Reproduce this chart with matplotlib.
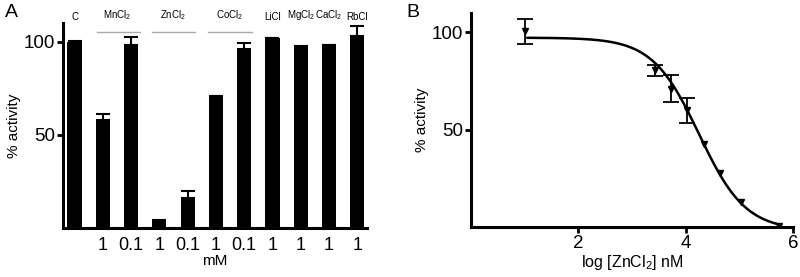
import numpy as np
import matplotlib.pyplot as plt

plt.rcParams['font.family'] = ['Liberation Sans', 'DejaVu Sans']
plt.rcParams['mathtext.fontset'] = 'custom'
plt.rcParams['mathtext.rm'] = 'Liberation Sans'
plt.rcParams['mathtext.it'] = 'Liberation Sans'

# panel A data
conc = ['', '1', '0.1', '1', '0.1', '1', '0.1', '1', '1', '1', '1']
activity = [100, 58, 98, 3.5, 16, 70.5, 96, 101.7, 97, 98, 102.8]
act_err = [0.5, 3, 4.5, 0.6, 3.5, 0.3, 3, 0.4, 0.4, 0.4, 5.5]
salt_names = ['C', 'MnCl$_2$', 'ZnCl$_2$', 'CoCl$_2$', 'LiCl', 'MgCl$_2$', 'CaCl$_2$', 'RbCl']
salt_pos = [0, 1.5, 3.5, 5.5, 7, 8, 9, 10]
group_spans = [(0.78, 2.3), (2.74, 4.27), (4.72, 6.28)]

# panel B data
log_zn = [1.0, 3.43, 3.73, 4.03, 4.35, 4.64, 5.03, 5.75]
zn_act = [100.5, 80.5, 71, 59.8, 42.3, 27.6, 12.9, 0.5]
zn_err = [6.2, 2.9, 7, 6.2, 0, 0, 0, 0]
# fitted dose-response parameters
fit_top, fit_bottom, fit_logic50, fit_hill = 97.3, -2.0, 4.25, 1.0

fig = plt.figure(figsize=(8, 2.77), dpi=100)

# ---- A ----
ax = fig.add_axes([0.079, 0.178, 0.38, 0.739])
x = np.arange(len(activity))
ax.bar(x, activity, width=0.5, color='black')
ax.errorbar(x, activity, yerr=[[0] * len(act_err), act_err], fmt='none',
            ecolor='black', elinewidth=1.5, capsize=5, capthick=1.5)
ax.set_xlim(-0.4, 10.35)
ax.set_ylim(0, 110)
ax.set_yticks([50, 100])
ax.set_xticks(x)
ax.set_xticklabels(conc, fontsize=13)
ax.tick_params(axis='x', length=0, pad=7)
ax.tick_params(axis='y', labelsize=13.5, width=2, length=4, pad=2)
for s in ['top', 'right']:
    ax.spines[s].set_visible(False)
for s in ['left', 'bottom']:
    ax.spines[s].set_linewidth(2.2)
ax.set_xlabel('mM', fontsize=11, labelpad=0)
ax.set_ylabel('% activity', fontsize=11, labelpad=2)
for name, p in zip(salt_names, salt_pos):
    ax.text(p, 110.5, name, ha='center', va='bottom', fontsize=7, clip_on=False)
for a, b in group_spans:
    ax.plot([a, b], [105, 105], color='#aaaaaa', lw=1, clip_on=False)
fig.text(0.006, 0.985, 'A', fontsize=14, va='top')

# ---- B ----
bx = fig.add_axes([0.589, 0.182, 0.402, 0.771])
xs = np.linspace(1.05, 5.75, 300)
fit = fit_bottom + (fit_top - fit_bottom) / (1 + 10 ** ((xs - fit_logic50) * fit_hill))
bx.plot(xs, fit, color='black', lw=1.8)
bx.plot(log_zn, zn_act, 'v', color='black', ms=5)
ex = [v for v, e in zip(log_zn, zn_err) if e > 0]
ey = [v for v, e in zip(zn_act, zn_err) if e > 0]
ee = [e for e in zn_err if e > 0]
bx.errorbar(ex, ey, yerr=ee, fmt='none', ecolor='black',
            elinewidth=1.3, capsize=6, capthick=1.3)
bx.set_xlim(0, 6)
bx.set_ylim(0, 110)
bx.set_xticks([2, 4, 6])
bx.set_yticks([50, 100])
bx.tick_params(axis='both', labelsize=13.5, width=2, length=4, pad=2)
for s in ['top', 'right']:
    bx.spines[s].set_visible(False)
for s in ['left', 'bottom']:
    bx.spines[s].set_linewidth(2.2)
bx.set_xlabel('log [ZnCl$_2$] nM', fontsize=11.5, labelpad=1)
bx.set_ylabel('% activity', fontsize=11, labelpad=2)
fig.text(0.508, 0.985, 'B', fontsize=14, va='top')

fig.savefig('out.png', dpi=100)
